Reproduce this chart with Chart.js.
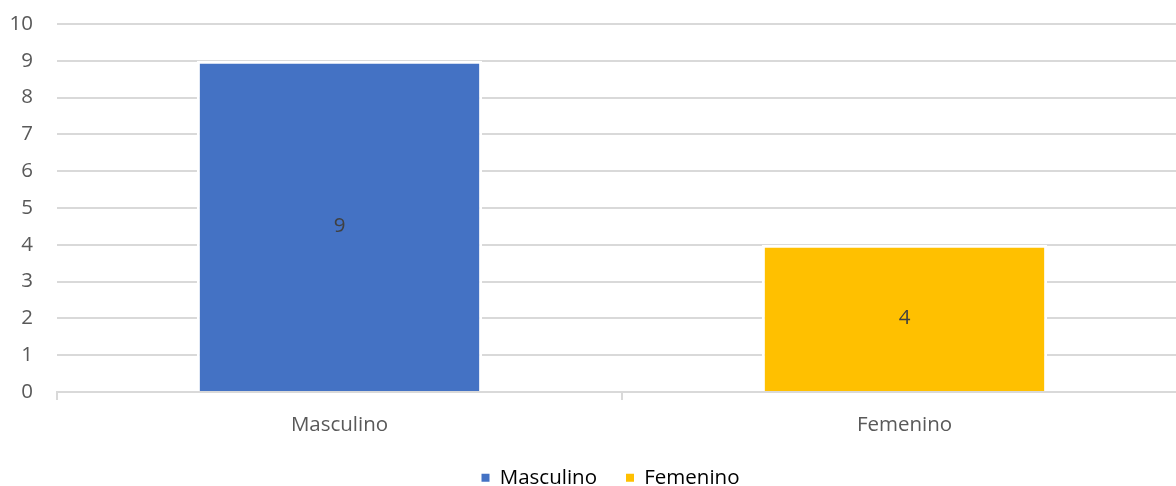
<!DOCTYPE html>
<html lang="es">
<head>
    <meta charset="UTF-8">
    <title>Masculino / Femenino</title>
    <script src="https://cdn.jsdelivr.net/npm/chart.js"></script>
    <style>
        html, body {
            margin: 0;
            padding: 0;
            background: #fff;
            overflow: hidden;
        }
        #wrap {
            width: 1220px;
            height: 486px;
        }
    </style>
</head>
<body>
    <div id="wrap">
        <canvas id="sexChart" width="1220" height="486"></canvas>
    </div>

    <script>
        // categories and counts per category
        const categories = ['Masculino', 'Femenino'];
        const masculino = [9, null];
        const femenino = [null, 4];
        const yTicks = [0, 1, 2, 3, 4, 5, 6, 7, 8, 9, 10];

        const textGray = '#595959';
        const gridGray = '#d9d9d9';
        const font = { family: '"Open Sans", sans-serif', size: 20.5 };

        // value printed in the middle of each bar
        const barLabels = {
            id: 'barLabels',
            afterDatasetsDraw(chart) {
                const ctx = chart.ctx;
                ctx.save();
                ctx.font = '20.5px "Open Sans", sans-serif';
                ctx.fillStyle = '#404040';
                ctx.textAlign = 'center';
                ctx.textBaseline = 'middle';
                chart.data.datasets.forEach((ds, i) => {
                    chart.getDatasetMeta(i).data.forEach((bar, j) => {
                        const v = ds.data[j];
                        if (v === null || v === undefined) return;
                        ctx.fillText(String(v), bar.x, (bar.y + bar.base) / 2);
                    });
                });
                ctx.restore();
            }
        };

        // nudge the legend a bit right and up
        const legendShift = {
            id: 'legendShift',
            afterLayout(chart) {
                const lg = chart.legend;
                lg.left += 17;
                lg.right += 17;
                lg.top -= 4;
                lg.bottom -= 4;
            }
        };

        const ctx = document.getElementById('sexChart').getContext('2d');
        new Chart(ctx, {
            type: 'bar',
            data: {
                labels: categories,
                datasets: [
                    { label: 'Masculino', data: masculino, backgroundColor: '#4472C4' },
                    { label: 'Femenino', data: femenino, backgroundColor: '#FFC000' }
                ]
            },
            options: {
                responsive: false,
                animation: false,
                layout: { padding: { top: 24, right: 33, left: 0, bottom: -16 } },
                datasets: {
                    bar: {
                        categoryPercentage: 1,
                        barPercentage: 0.505,
                        borderColor: '#fff',
                        borderWidth: 3
                    }
                },
                scales: {
                    x: {
                        stacked: true,
                        afterFit(scale) { scale.height -= 8; },
                        grid: {
                            offset: true,
                            drawOnChartArea: false,
                            drawTicks: true,
                            tickLength: 8,
                            color: gridGray,
                            lineWidth: 2
                        },
                        border: { color: gridGray, width: 2 },
                        ticks: { color: textGray, font: font, padding: 13 }
                    },
                    y: {
                        stacked: true,
                        min: 0,
                        max: 10,
                        afterFit(scale) { scale.width = 57; },
                        afterBuildTicks(scale) { scale.ticks = yTicks.map(v => ({ value: v })); },
                        grid: {
                            color: gridGray,
                            lineWidth: 2,
                            drawTicks: true,
                            tickLength: 24,
                            tickColor: 'rgba(0,0,0,0)'
                        },
                        border: { display: false },
                        ticks: { color: textGray, font: font, padding: 0 }
                    }
                },
                plugins: {
                    legend: {
                        position: 'bottom',
                        labels: {
                            color: textGray,
                            font: font,
                            boxWidth: 8,
                            boxHeight: 8,
                            padding: 29,
                            generateLabels(chart) {
                                return chart.data.datasets.map((ds, i) => ({
                                    text: ds.label,
                                    fillStyle: ds.backgroundColor,
                                    strokeStyle: ds.backgroundColor,
                                    lineWidth: 0,
                                    datasetIndex: i
                                }));
                            }
                        }
                    },
                    tooltip: { enabled: false }
                }
            },
            plugins: [barLabels, legendShift]
        });
    </script>
</body>
</html>
